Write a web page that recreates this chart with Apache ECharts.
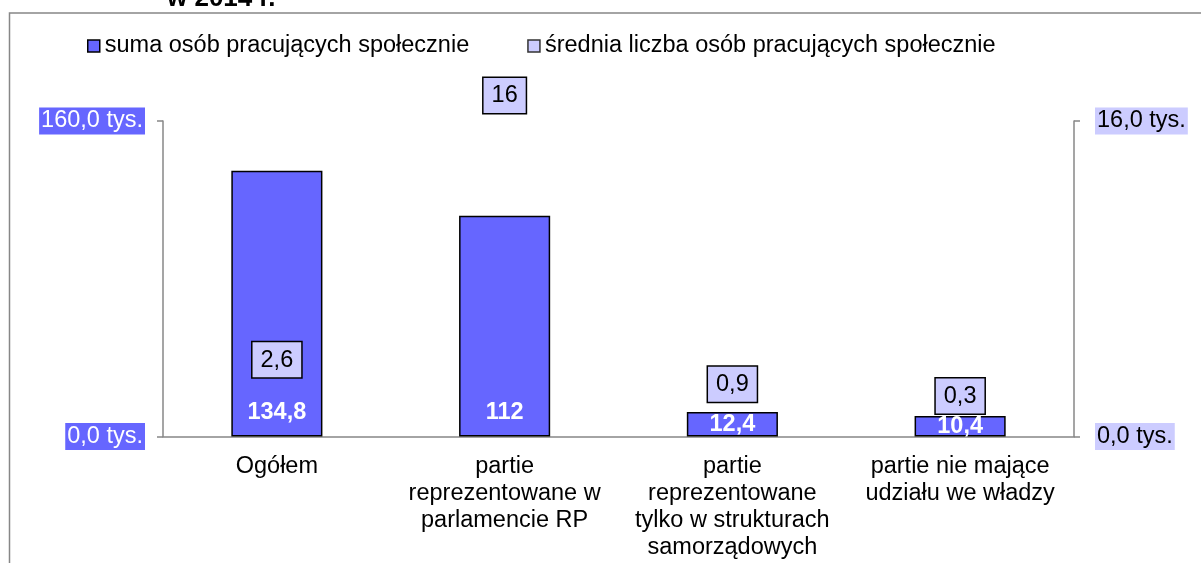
<!DOCTYPE html>
<html>
<head>
<meta charset="utf-8">
<title>osoby pracujące społecznie</title>
<script src="https://cdn.jsdelivr.net/npm/echarts@6/dist/echarts.min.js"></script>
<style>
  html, body { margin: 0; padding: 0; background: #fff; }
  #chart { width: 1201px; height: 563px; }
</style>
</head>
<body>
<div id="chart"></div>
<script>
// dane z wykresu
var categories = [
  'Ogółem',
  'partie\nreprezentowane w\nparlamencie RP',
  'partie\nreprezentowane\ntylko w strukturach\nsamorządowych',
  'partie nie mające\nudziału we władzy'
]
var sumaOsob = [134.8, 112, 12.4, 10.4]      // tys., lewa oś
var sredniaLiczba = [2.6, 16, 0.9, 0.3]      // prawa oś
var seriesNames = ['suma osób pracujących społecznie', 'średnia liczba osób pracujących społecznie']
var leftAxisMax = 160
var rightAxisMax = 16

var FONT = '"Liberation Sans", Arial, sans-serif'
var GREY = '#878787'

function plNum(v) {
  return String(v).replace('.', ',')
}
function tys(v) {
  return v.toFixed(1).replace('.', ',') + ' tys.'
}

var chart = echarts.init(document.getElementById('chart'))

var option = {
  animation: false,
  textStyle: { fontFamily: FONT },
  title: {
    text: 'w 2014 r.',
    left: 162,
    top: -19,
    textStyle: { fontFamily: FONT, fontSize: 26, fontWeight: 'bold', color: '#000' }
  },
  // ramka obszaru wykresu
  graphic: [{
    type: 'rect',
    shape: { x: 9.5, y: 13, width: 1400, height: 800 },
    style: { fill: 'none', stroke: GREY, lineWidth: 1.5 },
    silent: true
  }],
  legend: {
    left: 82,
    top: 29,
    itemWidth: 12,
    itemHeight: 12,
    itemGap: 58,
    icon: 'rect',
    textStyle: { fontFamily: FONT, fontSize: 23.5, color: '#000' },
    data: [
      { name: seriesNames[0], itemStyle: { color: '#6666FF', borderColor: '#000', borderWidth: 1.5 } },
      { name: seriesNames[1], itemStyle: { color: '#CCCCFF', borderColor: '#333', borderWidth: 1.5 } }
    ]
  },
  grid: { left: 163, right: 127, top: 121, bottom: 126.5, containLabel: false, outerBoundsMode: 'none' },
  xAxis: {
    type: 'category',
    data: categories,
    axisLine: { lineStyle: { color: GREY, width: 1.5 } },
    axisTick: { show: false },
    axisLabel: {
      interval: 0,
      margin: 17,
      fontFamily: FONT,
      fontSize: 23.5,
      lineHeight: 27,
      color: '#000'
    }
  },
  yAxis: [{
    type: 'value',
    min: 0,
    max: leftAxisMax,
    interval: leftAxisMax,
    splitLine: { show: false },
    axisLine: { show: true, lineStyle: { color: GREY, width: 1.5 } },
    axisTick: { show: true, length: 6, lineStyle: { color: GREY, width: 1.5 } },
    axisLabel: {
      formatter: tys,
      margin: 18,
      fontFamily: FONT,
      fontSize: 23.5,
      color: '#fff',
      backgroundColor: '#6666FF',
      padding: [2, 2, 1, 2]
    }
  }, {
    type: 'value',
    min: 0,
    max: rightAxisMax,
    interval: rightAxisMax,
    splitLine: { show: false },
    axisLine: { show: true, lineStyle: { color: GREY, width: 1.5 } },
    axisTick: { show: true, length: 6, lineStyle: { color: GREY, width: 1.5 } },
    axisLabel: {
      formatter: tys,
      margin: 21,
      fontFamily: FONT,
      fontSize: 23.5,
      color: '#000',
      backgroundColor: '#CCCCFF',
      padding: [2, 2, 1, 2]
    }
  }],
  series: [{
    name: seriesNames[0],
    type: 'bar',
    barWidth: '40%',
    barGap: '-100%',
    itemStyle: { color: '#6666FF', borderColor: '#000', borderWidth: 1.5 },
    // niskie słupki - etykieta na środku, wysokie - przy podstawie
    data: sumaOsob.map(function (v) {
      return {
        value: v,
        label: v > 20 ? { position: 'insideBottom', distance: 12 } : { position: 'inside' }
      }
    }),
    label: {
      show: true,
      formatter: function (p) { return plNum(p.value) },
      fontFamily: FONT,
      fontSize: 23.5,
      fontWeight: 'bold',
      color: '#fff'
    },
    z: 2
  }, {
    name: seriesNames[1],
    type: 'bar',
    yAxisIndex: 1,
    barWidth: '40%',
    itemStyle: { color: 'rgba(0,0,0,0)' },
    data: sredniaLiczba.map(function (v) {
      return { value: v, label: { distance: v < 1 ? 17 : 8 } }
    }),
    label: {
      show: true,
      position: 'top',
      formatter: function (p) { return plNum(p.value) },
      fontFamily: FONT,
      fontSize: 23.5,
      color: '#000',
      backgroundColor: '#CCCCFF',
      borderColor: '#000',
      borderWidth: 1.5,
      padding: [6, 8, 5, 8]
    },
    z: 3
  }]
}

chart.setOption(option)
</script>
</body>
</html>
